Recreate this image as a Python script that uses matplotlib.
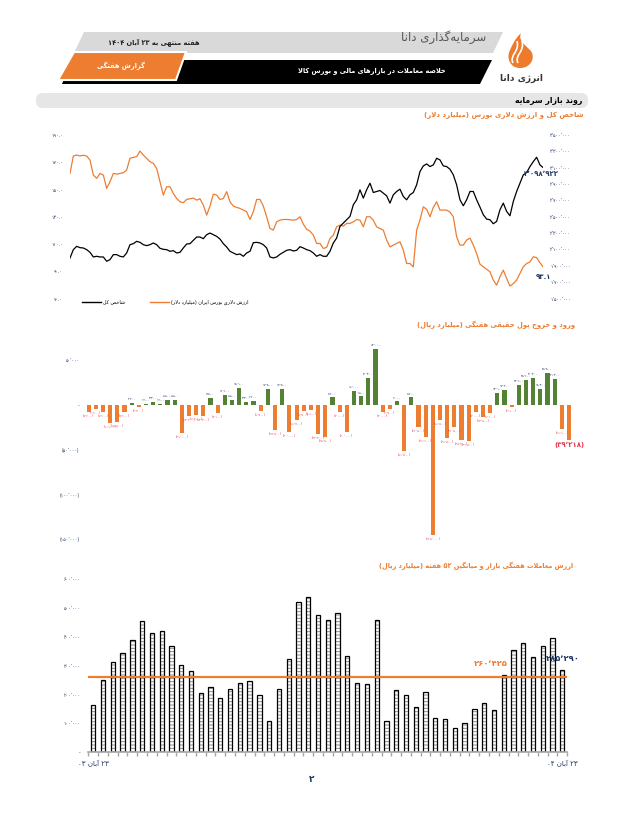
import re
import numpy as np
import matplotlib.pyplot as plt
from matplotlib.patches import Polygon, FancyBboxPatch, PathPatch
from matplotlib.path import Path
from matplotlib.lines import Line2D

plt.rcParams['font.family'] = ['DejaVu Sans']
plt.rcParams['hatch.linewidth'] = 0.7

# ---- data ----
# total index (thousand points), daily
index_vals = [1995.9, 2097.6, 2138.2, 2122.0, 2117.9, 2097.6, 2065.0, 2008.1, 2016.3, 2008.1,
              2008.1, 1955.3, 1975.6, 2036.6, 2036.6, 2016.3, 2008.1, 2056.9, 2158.5, 2170.7,
              2199.2, 2187.0, 2158.5, 2146.4, 2158.5, 2178.9, 2158.5, 2113.8, 2101.6, 2097.6,
              2077.2, 2085.4, 2056.9, 2065.0, 2117.9, 2166.7, 2170.7, 2211.4, 2252.0, 2252.0,
              2231.7, 2280.5, 2300.8, 2280.5, 2260.2, 2227.6, 2170.7, 2130.1, 2077.2, 2056.9,
              2036.6, 2044.7, 2016.3, 2056.9, 2077.2, 2182.9, 2187.0, 2178.9, 2158.5, 2117.9,
              2008.1, 1995.9, 2008.1, 2040.6, 2065.0, 2089.4, 2097.6, 2081.3, 2089.4, 2134.1,
              2117.9, 2097.6, 2085.4, 2056.9, 2016.3, 2036.6, 2016.3, 2016.3, 2077.2, 2178.9,
              2239.8, 2382.1, 2422.7, 2463.4, 2504.0, 2646.3, 2707.3, 2829.3, 2727.6, 2829.3,
              2910.6, 2796.7, 2808.9, 2821.1, 2788.6, 2756.1, 2666.7, 2768.3, 2808.9, 2837.4,
              2747.9, 2707.3, 2768.3, 2796.7, 2890.2, 3052.8, 3121.9, 3146.3, 3113.8, 3134.1,
              3215.4, 3195.1, 3121.9, 3113.8, 3081.3, 3012.2, 2890.2, 2707.3, 2634.1, 2707.3,
              2808.9, 2808.9, 2707.3, 2617.9, 2524.4, 2471.5, 2463.4, 2414.6, 2443.1, 2585.4,
              2666.7, 2565.1, 2512.2, 2687.0, 2808.9, 2910.6, 3012.2, 3040.6, 3113.8, 3174.8,
              3227.6, 3134.1, 3098.922]
# dollar value of the market (billion USD), daily
dollar_vals = [161.8, 174.6, 175.3, 174.6, 175.1, 174.6, 171.6, 160.6, 158.2, 161.8,
               160.6, 150.8, 155.7, 161.8, 161.3, 161.8, 162.3, 164.3, 172.9, 173.6,
               174.1, 178.2, 175.3, 172.9, 170.4, 169.2, 165.5, 155.7, 145.9, 152.0,
               152.0, 147.1, 143.4, 141.0, 140.3, 142.7, 143.2, 143.7, 142.2, 143.2,
               138.6, 131.2, 137.8, 146.6, 145.9, 142.7, 143.4, 148.4, 141.0, 137.8,
               136.9, 136.1, 134.9, 133.7, 128.0, 133.7, 142.7, 142.7, 137.8, 130.0,
               121.4, 120.2, 126.3, 127.5, 128.0, 128.0, 127.8, 127.5, 128.0, 130.0,
               124.6, 120.7, 119.5, 116.5, 110.4, 110.4, 106.7, 107.5, 114.1, 116.5,
               122.6, 123.9, 123.1, 125.1, 125.1, 126.3, 128.0, 127.5, 122.6, 130.0,
               130.0, 127.5, 122.6, 121.4, 120.2, 112.9, 107.9, 109.2, 110.4, 111.6,
               105.5, 95.7, 95.7, 93.2, 120.2, 127.5, 137.3, 135.4, 130.0, 136.9,
               141.0, 134.9, 134.9, 134.9, 133.4, 130.0, 115.3, 109.2, 109.2, 112.9,
               114.3, 109.2, 103.0, 95.2, 93.3, 91.3, 89.6, 83.5, 79.8, 85.9,
               90.8, 84.7, 79.1, 81.0, 83.5, 88.4, 93.3, 95.7, 96.9, 100.6,
               100.1, 96.2, 93.1]
# weekly net real-money flow (billion rial)
flow_vals = [-7400, -4400, -7400, -19600, -18500, -7400, 2200, -2200, 1100, 3300,
             1100, 5500, 5500, -31000, -12200, -11100, -12200, 7800, -8900, 11100,
             5500, 18900, 3300, 4400, -6700, 17800, -27800, 17800, -30000, -16700,
             -6700, -5600, -32200, -35500, 8400, -8000, -30000, 16000, 9500, 30300,
             63000, -8000, -4700, 4000, -51800, 8400, -24500, -36100, -145000, -16800,
             -36500, -24500, -38700, -39800, -8000, -13500, -9100, 13900, 17200, -2600,
             22600, 28100, 30300, 18300, 35800, 29200, -26600, -39218]
# weekly trading value (billion rial)
trade_vals = [162600, 252500, 314800, 345900, 390900, 456600, 415100, 422000, 370100, 304400,
              283600, 204100, 224800, 186800, 217900, 238700, 245600, 197200, 107200, 217900,
              325100, 522300, 539600, 477300, 460000, 484300, 335500, 238700, 235200, 460000,
              107200, 214500, 197200, 155700, 207500, 117600, 114100, 83000, 100300, 148700,
              169500, 145300, 269800, 354000, 380500, 332100, 370100, 397800, 285290]
avg_52 = 260425
trade_start, trade_end = '۲۳ آبان ۰۳', '۲۳ آبان ۰۴'

ORANGE = '#ED7D31'
GREEN = '#548235'
NAVY = '#1F3864'

# ---- persian text helpers (shaping + visual order) ----
_F = {
    'ا': (0xFE8D, 0xFE8E), 'آ': (0xFE81, 0xFE82), 'د': (0xFEA9, 0xFEAA), 'ذ': (0xFEAB, 0xFEAC),
    'ر': (0xFEAD, 0xFEAE), 'ز': (0xFEAF, 0xFEB0), 'ژ': (0xFB8A, 0xFB8B), 'و': (0xFEED, 0xFEEE),
    'ب': (0xFE8F, 0xFE90, 0xFE91, 0xFE92), 'پ': (0xFB56, 0xFB57, 0xFB58, 0xFB59),
    'ت': (0xFE95, 0xFE96, 0xFE97, 0xFE98), 'ث': (0xFE99, 0xFE9A, 0xFE9B, 0xFE9C),
    'ج': (0xFE9D, 0xFE9E, 0xFE9F, 0xFEA0), 'چ': (0xFB7A, 0xFB7B, 0xFB7C, 0xFB7D),
    'ح': (0xFEA1, 0xFEA2, 0xFEA3, 0xFEA4), 'خ': (0xFEA5, 0xFEA6, 0xFEA7, 0xFEA8),
    'س': (0xFEB1, 0xFEB2, 0xFEB3, 0xFEB4), 'ش': (0xFEB5, 0xFEB6, 0xFEB7, 0xFEB8),
    'ص': (0xFEB9, 0xFEBA, 0xFEBB, 0xFEBC), 'ض': (0xFEBD, 0xFEBE, 0xFEBF, 0xFEC0),
    'ط': (0xFEC1, 0xFEC2, 0xFEC3, 0xFEC4), 'ظ': (0xFEC5, 0xFEC6, 0xFEC7, 0xFEC8),
    'ع': (0xFEC9, 0xFECA, 0xFECB, 0xFECC), 'غ': (0xFECD, 0xFECE, 0xFECF, 0xFED0),
    'ف': (0xFED1, 0xFED2, 0xFED3, 0xFED4), 'ق': (0xFED5, 0xFED6, 0xFED7, 0xFED8),
    'ک': (0xFB8E, 0xFB8F, 0xFB90, 0xFB91), 'گ': (0xFB92, 0xFB93, 0xFB94, 0xFB95),
    'ل': (0xFEDD, 0xFEDE, 0xFEDF, 0xFEE0), 'م': (0xFEE1, 0xFEE2, 0xFEE3, 0xFEE4),
    'ن': (0xFEE5, 0xFEE6, 0xFEE7, 0xFEE8), 'ه': (0xFEE9, 0xFEEA, 0xFEEB, 0xFEEC),
    'ی': (0xFBFC, 0xFBFD, 0xFBFE, 0xFBFF),
}
_NUM = r'[0-9۰-۹]+(?:[.,٫٬][0-9۰-۹]+)*'


def shape(s):
    s = s.replace('ي', 'ی').replace('ك', 'ک')
    out = []
    i = 0
    while i < len(s):
        c = s[i]
        prev = s[i - 1] if i > 0 else ''
        jp = prev in _F and len(_F[prev]) == 4
        nxt = s[i + 1] if i + 1 < len(s) else ''
        if c == 'ل' and nxt in ('ا', 'آ'):
            iso, fin = (0xFEFB, 0xFEFC) if nxt == 'ا' else (0xFEF5, 0xFEF6)
            out.append(chr(fin if jp else iso))
            i += 2
            continue
        if c not in _F:
            if c != '\u200c':
                out.append(c)
            i += 1
            continue
        f = _F[c]
        jn = len(f) == 4 and nxt in _F
        if jp and jn:
            out.append(chr(f[3]))
        elif jp:
            out.append(chr(f[1]))
        elif jn:
            out.append(chr(f[2]))
        else:
            out.append(chr(f[0]))
        i += 1
    return ''.join(out)


def fa(s):
    parts = re.split('(' + _NUM + ')', shape(s))
    out = []
    for p in reversed(parts):
        if re.fullmatch(_NUM, p):
            out.append(p)
        else:
            out.append(p[::-1].translate(str.maketrans('()', ')(')))
    return ''.join(out)


def fnum(v, dec=0, paren=True):
    s = f'{abs(v):,.{dec}f}'.translate(str.maketrans('0123456789,', '۰۱۲۳۴۵۶۷۸۹٬'))
    if v < 0 and paren:
        return '(' + s + ')'
    return s


# ---- figure ----
W, H = 630, 840
fig = plt.figure(figsize=(W / 100, H / 100), dpi=100)
fig.patch.set_facecolor('white')


def px_axes(x0, y0, x1, y1):
    return fig.add_axes([x0 / W, 1 - y1 / H, (x1 - x0) / W, (y1 - y0) / H])


bg = fig.add_axes([0, 0, 1, 1])
bg.set_xlim(0, W)
bg.set_ylim(H, 0)
bg.axis('off')

# header
bg.add_patch(Polygon([(84, 32), (503, 32), (493, 53), (74, 53)], closed=True, fc='#D9D9D9', ec='none'))
bg.add_patch(Polygon([(72, 60), (492, 60), (480, 84), (62, 84)], closed=True, fc='black', ec='none'))
bg.add_patch(Polygon([(74, 52), (186, 52), (176, 80), (58, 80)], closed=True, fc=ORANGE, ec='white', lw=1.5))
bg.text(200, 43, fa('هفته منتهی به ۲۳ آبان ۱۴۰۴'), ha='right', va='center', fontsize=4.8, fontweight='bold', color='#222')
bg.text(486, 37, fa('سرمایه\u200cگذاری دانا'), ha='right', va='center', fontsize=8.5, color='#555')
bg.text(121, 66, fa('گزارش هفتگی'), ha='center', va='center', fontsize=4.8, fontweight='bold', color='white')
bg.text(446, 71, fa('خلاصه معاملات در بازارهای مالی و بورس کالا'), ha='right', va='center',
        fontsize=4.8, fontweight='bold', color='white')

# logo flame
flame = Path([(520, 68), (510, 68), (506, 58), (510, 50), (513, 44), (514, 40), (521, 33),
              (518, 40), (524, 44), (530, 50), (536, 56), (532, 68), (520, 68)],
             [Path.MOVETO, Path.CURVE4, Path.CURVE4, Path.CURVE4, Path.CURVE4, Path.CURVE4, Path.CURVE4,
              Path.CURVE4, Path.CURVE4, Path.CURVE4, Path.CURVE4, Path.CURVE4, Path.CURVE4])
bg.add_patch(PathPatch(flame, fc='#EE7A2C', ec='none'))
for sx in (0, 5):
    swoosh = Path([(513 + sx, 63), (509 + sx, 55), (520 + sx, 52), (517 + sx, 41)],
                  [Path.MOVETO, Path.CURVE4, Path.CURVE4, Path.CURVE4])
    bg.add_patch(PathPatch(swoosh, fc='none', ec='white', lw=1.2))
bg.text(521, 78, fa('انرژی دانا'), ha='center', va='center', fontsize=6.5, fontweight='bold', color='#333')

# section bar
bg.add_patch(FancyBboxPatch((36, 93), 552, 15, boxstyle='round,pad=0,rounding_size=7', fc='#E7E6E6', ec='none'))
bg.text(582, 100.5, fa('روند بازار سرمایه'), ha='right', va='center', fontsize=5.6, fontweight='bold', color='black')

# chart titles
bg.text(584, 115, fa('شاخص کل و ارزش دلاری بورس (میلیارد دلار)'), ha='right', va='center',
        fontsize=5, fontweight='bold', color=ORANGE)
bg.text(575, 325, fa('ورود و خروج پول حقیقی هفتگی (میلیارد ریال)'), ha='right', va='center',
        fontsize=4.9, fontweight='bold', color=ORANGE)
bg.text(573, 566, fa('ارزش معاملات هفتگی بازار و میانگین ۵۲ هفته (میلیارد ریال)'), ha='right', va='center',
        fontsize=4.7, fontweight='bold', color=ORANGE)
bg.text(312, 780, '۲', ha='center', va='center', fontsize=6.5, fontweight='bold', color=NAVY)

# ---- chart 1: index & dollar value ----
ax1 = px_axes(70, 135, 543.3, 298.5)
ax1r = ax1.twinx()
x1 = np.arange(len(dollar_vals))
ax1.plot(x1, dollar_vals, color=ORANGE, lw=0.9)
ax1r.plot(x1, np.array(index_vals) * 1000, color='black', lw=0.9)
ax1.set_xlim(0, len(x1) - 1)
ax1.set_ylim(70, 190)
ax1.set_yticks(np.arange(70, 191, 20))
ax1.set_yticklabels([fnum(v, 1).replace('٬', '') for v in np.arange(70, 191, 20)])
ax1r.set_ylim(1500000, 3500000)
ax1r.set_yticks(np.arange(1500000, 3500001, 200000))
ax1r.set_yticklabels([fnum(v) for v in np.arange(1500000, 3500001, 200000)])
for a in (ax1, ax1r):
    for s in a.spines.values():
        s.set_visible(False)
    a.tick_params(length=0, labelsize=3.3, labelcolor=NAVY, pad=5)
    a.set_xticks([])
ax1r.annotate(fnum(index_vals[-1] * 1000), (x1[-1], index_vals[-1] * 1000), xytext=(-1, -4.5),
              textcoords='offset points', ha='center', va='center', fontsize=5, fontweight='bold', color=NAVY)
ax1.annotate(fnum(dollar_vals[-1], 1), (x1[-1], dollar_vals[-1]), xytext=(0, -7.5),
             textcoords='offset points', ha='center', va='center', fontsize=5, fontweight='bold', color=NAVY)
ax1.legend([Line2D([], [], color='black', lw=1), Line2D([], [], color=ORANGE, lw=1)],
           [fa('شاخص کل'), fa('ارزش دلاری بورس ایران (میلیارد دلار)')],
           ncol=2, frameon=False, fontsize=3.5, handlelength=4, handletextpad=0.4, columnspacing=5,
           loc='center left', bbox_to_anchor=(82 / W, 1 - 302 / H), bbox_transform=fig.transFigure,
           borderpad=0, borderaxespad=0)

# ---- chart 2: real money flow ----
ax2 = px_axes(85.1, 338, 572.6, 545)
x2 = np.arange(len(flow_vals))
flow = np.array(flow_vals)
ax2.bar(x2, flow, width=0.58, color=np.where(flow >= 0, GREEN, ORANGE))
ax2.set_xlim(-0.5, len(x2) - 0.5)
ax2.set_ylim(-(545 - 405) * 1116, (405 - 338) * 1116)
ticks2 = [50000, 0, -50000, -100000, -150000]
ax2.set_yticks(ticks2)
ax2.set_yticklabels([fnum(t) if t != 0 else '-' for t in ticks2])
ax2.set_xticks([])
for s in ax2.spines.values():
    s.set_visible(False)
ax2.tick_params(length=0, labelsize=3.3, labelcolor=NAVY, pad=4)
for xi, v in zip(x2, flow_vals):
    if v >= 0:
        ax2.annotate(fnum(v), (xi, v), xytext=(0, 1.2), textcoords='offset points',
                     ha='center', va='bottom', fontsize=2.4, color=NAVY)
    else:
        last = xi == x2[-1]
        ax2.annotate(fnum(v), (xi, v), xytext=(0, -1.5), textcoords='offset points',
                     ha='center', va='top', fontsize=5 if last else 2.4,
                     fontweight='bold' if last else 'normal', color='#E8364F')

# ---- chart 3: weekly trading value ----
ax3 = px_axes(88.4, 572, 567.2, 752.3)
x3 = np.arange(len(trade_vals))
ax3.bar(x3, trade_vals, width=0.44, color='white', edgecolor='#8C8C8C', hatch='-' * 5, lw=0)
ax3.bar(x3, trade_vals, width=0.44, color='none', edgecolor='black', lw=0.9)
ax3.axhline(avg_52, color=ORANGE, lw=1.6, zorder=3)
ax3.set_xlim(-0.5, len(x3) - 0.5)
ax3.set_ylim(0, 625400)
ticks3 = np.arange(0, 600001, 100000)
ax3.set_yticks(ticks3)
ax3.set_yticklabels([fnum(t) if t != 0 else '-' for t in ticks3])
ax3.set_xticks([0, len(x3) - 1])
ax3.set_xticklabels([fa(trade_start), fa(trade_end)])
ax3.set_xticks(np.arange(-0.5, len(x3)), minor=True)
for s in ('top', 'right', 'left'):
    ax3.spines[s].set_visible(False)
ax3.spines['bottom'].set_color('#A6A6A6')
ax3.spines['bottom'].set_linewidth(1.2)
ax3.tick_params(axis='y', length=0, labelsize=3.3, labelcolor=NAVY, pad=6)
ax3.tick_params(axis='x', which='major', length=0, labelsize=5, labelcolor=NAVY, pad=5)
ax3.tick_params(axis='x', which='minor', length=3, color='#A6A6A6', width=1)
ax3.annotate(fnum(avg_52), (40.7, avg_52), xytext=(0, 10), textcoords='offset points',
             ha='center', va='center', fontsize=6, fontweight='bold', color=ORANGE)
ax3.annotate(fnum(trade_vals[-1]), (x3[-1], trade_vals[-1]), xytext=(0, 8), textcoords='offset points',
             ha='center', va='center', fontsize=6, fontweight='bold', color=NAVY)

fig.savefig('out.png', dpi=100, facecolor='white')
